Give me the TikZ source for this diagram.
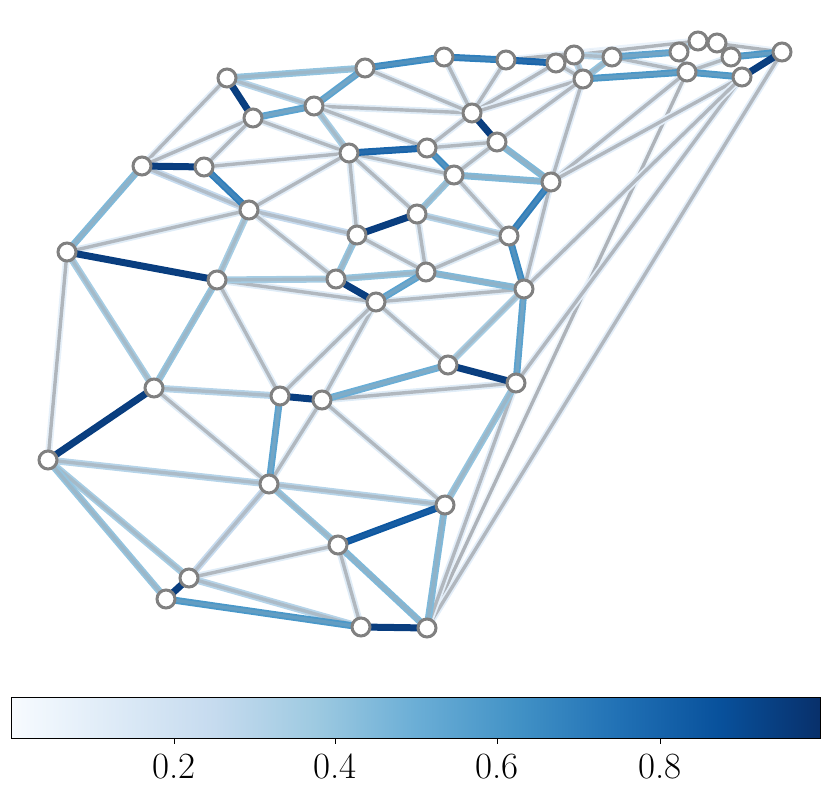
\documentclass[tikz,border=0pt]{standalone}
\definecolor{c0}{HTML}{F7FBFF}
\definecolor{c1}{HTML}{DEEBF7}
\definecolor{c2}{HTML}{C6DBEF}
\definecolor{c3}{HTML}{9ECAE1}
\definecolor{c4}{HTML}{6BAED6}
\definecolor{c5}{HTML}{4292C6}
\definecolor{c6}{HTML}{2171B5}
\definecolor{c7}{HTML}{08519C}
\definecolor{c8}{HTML}{08306B}
\definecolor{vgray}{HTML}{808080}
\definecolor{cgray}{HTML}{A5AAB0}
\pgfdeclarelayer{edgelayer}
\pgfsetlayers{edgelayer,main}
\newcommand\setec[1]{%
  \pgfmathsetmacro\ecx{#1*8}%
  \pgfmathtruncatemacro\eci{min(floor(\ecx),7)}%
  \pgfmathtruncatemacro\ecj{\eci+1}%
  \pgfmathsetmacro\ecp{(\ecx-\eci)*100}%
  \edef\ectmp{\noexpand\colorlet{ec}{c\ecj!\ecp!c\eci}}\ectmp
  \pgfmathsetmacro\eco{0.92*(1-#1)^1.3}%
}
\newcommand\E[3]{\setec{#1}%
  \draw[halo,draw=ec] (#2.center)--(#3.center);
  \draw[core,draw opacity=\eco] (#2.center)--(#3.center);}
\begin{document}
\begin{tikzpicture}[x=1pt,y=-1pt,
  vtx/.style={circle,draw=vgray,line width=3pt,fill=white,minimum size=18pt,inner sep=0pt},
  halo/.style={line width=7pt},
  core/.style={line width=3.4pt,draw=cgray},
  ticklab/.style={anchor=base,inner sep=0pt,font=\fontsize{37}{44}\selectfont}]
\useasboundingbox (0,0) rectangle (831,797);
% vertices
\foreach \n/\x/\y in {A/227/78,B/253/118,C/314/106,D/365/68,E/444/57,F/506/60,
  G/556/63,H/574/55,I/612/57,J/583/79,K/679/52,L/698/41,M/717/43,N/731/57,
  O/687/72,P/742/77,Q/782/52,R/472/113,S/497/142,T/427/148,U/349/153,V/454/175,
  W/551/182,X/142/166,Y/204/167,Z/249/210,a/417/214,b/357/235,c/509/236,
  d/67/252,e/217/280,f/336/279,g/426/272,h/376/302,i/524/289,j/448/365,
  k/516/383,l/154/388,m/280/396,n/322/400,o/48/460,p/269/484,q/445/505,
  r/338/545,s/189/578,t/166/599,u/361/627,v/427/628}
  {\node[vtx] (\n) at (\x,\y) {};}
\begin{pgfonlayer}{edgelayer}
% light long edges first
\E{0.04}{v}{O}
\E{0.1}{v}{Q}
\E{0.1}{k}{P}
\E{0.1}{W}{O}
\E{0.1}{W}{P}
\E{0.1}{i}{P}
\E{0.1}{W}{J}
\E{0.06}{F}{L}
\E{0.06}{H}{L}
\E{0.06}{M}{Q}
\E{0.06}{L}{Q}
% cluster
\E{0.12}{G}{H}
\E{0.12}{G}{J}
\E{0.3}{H}{J}
\E{0.3}{H}{I}
\E{0.4}{J}{I}
\E{0.12}{I}{O}
\E{0.12}{K}{O}
\E{0.3}{K}{L}
\E{0.3}{L}{M}
\E{0.3}{M}{N}
\E{0.12}{O}{N}
\E{0.55}{I}{K}
\E{0.6}{J}{O}
\E{0.6}{O}{P}
\E{0.6}{N}{Q}
\E{0.95}{P}{Q}
% main body
\E{0.1}{A}{X}
\E{0.1}{B}{X}
\E{0.1}{B}{Y}
\E{0.12}{B}{U}
\E{0.3}{A}{C}
\E{0.25}{X}{Z}
\E{0.1}{Y}{U}
\E{0.1}{Z}{U}
\E{0.12}{Z}{d}
\E{0.25}{Z}{b}
\E{0.12}{Z}{f}
\E{0.08}{d}{o}
\E{0.12}{C}{R}
\E{0.12}{C}{T}
\E{0.12}{D}{R}
\E{0.12}{E}{R}
\E{0.1}{F}{R}
\E{0.12}{U}{V}
\E{0.12}{U}{b}
\E{0.12}{U}{a}
\E{0.1}{R}{T}
\E{0.1}{R}{G}
\E{0.1}{R}{J}
\E{0.1}{S}{J}
\E{0.12}{T}{S}
\E{0.12}{S}{V}
\E{0.12}{V}{c}
\E{0.12}{a}{g}
\E{0.12}{b}{g}
\E{0.12}{g}{c}
\E{0.12}{e}{h}
\E{0.12}{e}{m}
\E{0.12}{h}{i}
\E{0.1}{W}{i}
\E{0.12}{h}{j}
\E{0.12}{n}{k}
\E{0.12}{h}{n}
\E{0.12}{h}{m}
\E{0.12}{l}{p}
\E{0.12}{n}{p}
\E{0.12}{n}{q}
\E{0.12}{s}{r}
\E{0.12}{r}{u}
\E{0.1}{k}{v}
\E{0.25}{s}{p}
\E{0.3}{a}{c}
\E{0.3}{l}{m}
\E{0.3}{o}{p}
\E{0.3}{s}{u}
\E{0.3}{p}{q}
\E{0.35}{d}{l}
\E{0.35}{Z}{e}
\E{0.35}{C}{U}
\E{0.35}{e}{f}
\E{0.35}{i}{j}
\E{0.35}{o}{s}
\E{0.4}{A}{D}
\E{0.4}{V}{a}
\E{0.4}{b}{f}
\E{0.4}{f}{g}
\E{0.4}{e}{l}
\E{0.4}{o}{t}
\E{0.4}{p}{r}
\E{0.4}{q}{k}
\E{0.45}{X}{d}
\E{0.45}{S}{W}
\E{0.45}{V}{W}
\E{0.45}{g}{i}
\E{0.45}{r}{v}
\E{0.45}{q}{v}
\E{0.5}{n}{j}
\E{0.55}{B}{C}
\E{0.55}{C}{D}
\E{0.55}{g}{h}
\E{0.55}{i}{k}
\E{0.55}{m}{p}
\E{0.6}{t}{u}
\E{0.65}{D}{E}
\E{0.65}{T}{V}
\E{0.65}{c}{i}
\E{0.7}{E}{F}
\E{0.7}{Y}{Z}
\E{0.7}{W}{c}
\E{0.8}{F}{G}
\E{0.8}{U}{T}
\E{0.85}{r}{q}
\E{0.95}{A}{B}
\E{0.95}{X}{Y}
\E{0.95}{d}{e}
\E{0.95}{R}{S}
\E{0.95}{a}{b}
\E{0.95}{f}{h}
\E{0.95}{j}{k}
\E{0.95}{l}{o}
\E{0.95}{m}{n}
\E{0.95}{s}{t}
\E{0.95}{u}{v}
\end{pgfonlayer}
% colorbar
\foreach \i [evaluate=\i as \j using int(\i+1)] in {0,...,7}
  {\shade[left color=c\i,right color=c\j] ({11+\i*101.125},697) rectangle ({11+\j*101.125},738);}
\node[draw=black,line width=1pt,minimum width=809pt,minimum height=41pt,inner sep=0pt,anchor=north west] (cbar) at (11,697) {};
\foreach \v/\x in {0.2/174,0.4/335,0.6/497,0.8/660}{
  \draw[line width=0.8pt] (\x,738) -- (\x,744);
  \node[ticklab] (t\x) at (\x,778) {\v};}
\end{tikzpicture}
\end{document}
